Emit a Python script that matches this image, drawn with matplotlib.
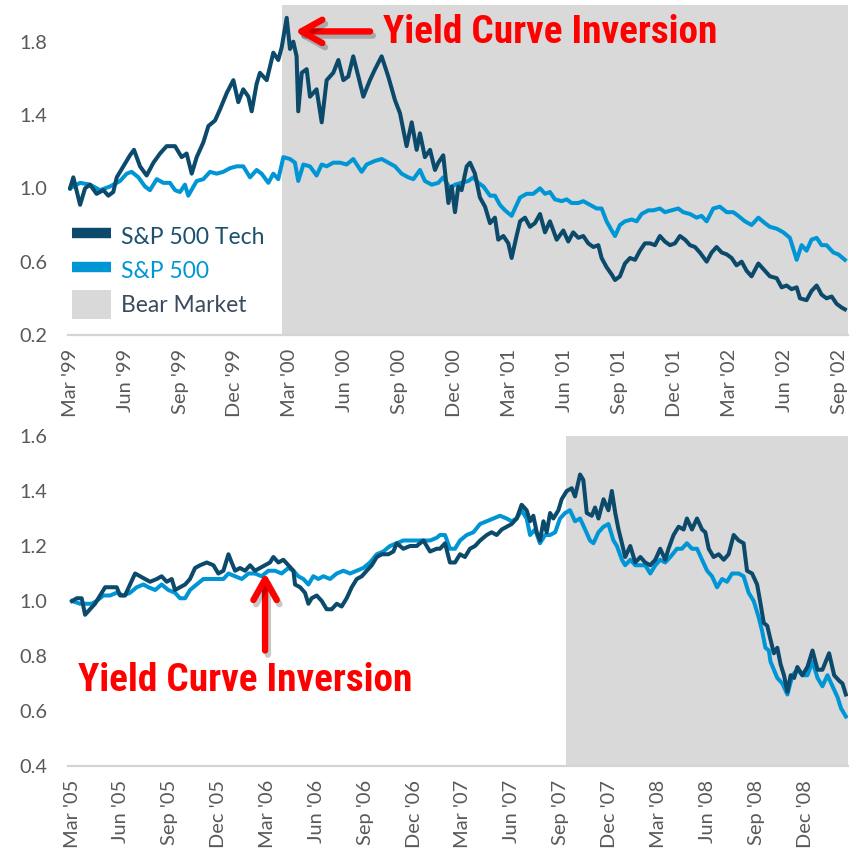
import matplotlib
matplotlib.use("Agg")
import matplotlib.pyplot as plt
from matplotlib import font_manager
from matplotlib.lines import Line2D
from matplotlib.patches import Patch
import matplotlib.patheffects as pe
import numpy as np

# ---------------- DATA (months since first tick, value indexed to 1.0) ----------------
top_tick_labels = ["Mar '99", "Jun '99", "Sep '99", "Dec '99", "Mar '00", "Jun '00", "Sep '00",
                   "Dec '00", "Mar '01", "Jun '01", "Sep '01", "Dec '01", "Mar '02", "Jun '02", "Sep '02"]
bot_tick_labels = ["Mar '05", "Jun '05", "Sep '05", "Dec '05", "Mar '06", "Jun '06", "Sep '06",
                   "Dec '06", "Mar '07", "Jun '07", "Sep '07", "Dec '07", "Mar '08", "Jun '08",
                   "Sep '08", "Dec '08"]

top_tech_month = [0.00, 0.18, 0.55, 0.82, 1.09, 1.45, 1.82, 2.09, 2.36, 2.55,
                  2.91, 3.27, 3.49, 3.82, 4.18, 4.55, 4.91, 5.27, 5.73, 6.09,
                  6.36, 6.64, 6.91, 7.27, 7.55, 7.91, 8.18, 8.55, 8.91, 9.18,
                  9.45, 9.73, 9.91, 10.18, 10.36, 10.73, 11.09, 11.36, 11.55, 11.82,
                  12.00, 12.18, 12.36, 12.45, 12.64, 12.91, 13.09, 13.45, 13.73, 14.00,
                  14.36, 14.64, 14.91, 15.18, 15.45, 15.73, 16.00, 16.36, 16.64, 17.00,
                  17.36, 17.73, 18.00, 18.36, 18.64, 18.91,
                  19.09, 19.36, 19.64, 19.91, 20.09, 20.36, 20.64, 20.82, 21.00, 21.18,
                  21.36, 21.64, 21.82, 22.09, 22.36, 22.64, 22.91, 23.18, 23.36, 23.64,
                  23.91, 24.09, 24.36, 24.55, 24.82, 25.09, 25.36, 25.64, 25.91, 26.18,
                  26.55, 26.91, 27.18, 27.45, 27.73, 28.00, 28.27, 28.55, 28.82, 29.00,
                  29.27, 29.55, 29.73, 30.00, 30.27, 30.55, 30.82, 31.09, 31.36, 31.64,
                  31.91, 32.18, 32.45, 32.73, 33.00, 33.27, 33.55, 33.82, 34.09, 34.36,
                  34.73, 35.00, 35.27, 35.55, 35.82, 36.09, 36.36, 36.64, 36.91, 37.18,
                  37.55, 37.82, 38.18, 38.55, 38.82, 39.09, 39.36, 39.64, 39.82, 40.18,
                  40.45, 40.73, 41.00, 41.27, 41.55, 41.82, 42.09, 42.27]
top_tech = [1.00, 1.06, 0.91, 1.00, 1.02, 0.97, 0.99, 0.96, 0.98, 1.06,
            1.12, 1.18, 1.21, 1.12, 1.07, 1.14, 1.19, 1.23, 1.23, 1.17,
            1.19, 1.08, 1.17, 1.25, 1.34, 1.37, 1.43, 1.52, 1.59, 1.47,
            1.54, 1.50, 1.42, 1.57, 1.63, 1.59, 1.74, 1.70, 1.77, 1.93,
            1.76, 1.80, 1.72, 1.42, 1.63, 1.65, 1.50, 1.54, 1.36, 1.59,
            1.63, 1.70, 1.59, 1.61, 1.72, 1.61, 1.50, 1.59, 1.65, 1.72,
            1.61, 1.48, 1.41, 1.23, 1.36, 1.21,
            1.30, 1.17, 1.21, 1.10, 1.14, 1.18, 0.92, 1.01, 0.87, 1.01,
            0.99, 1.12, 1.14, 1.08, 0.95, 0.90, 0.81, 0.84, 0.72, 0.74,
            0.70, 0.62, 0.74, 0.82, 0.84, 0.79, 0.81, 0.86, 0.76, 0.82,
            0.72, 0.77, 0.71, 0.76, 0.73, 0.74, 0.70, 0.68, 0.69, 0.62,
            0.57, 0.53, 0.50, 0.52, 0.59, 0.62, 0.61, 0.66, 0.70, 0.70,
            0.69, 0.74, 0.71, 0.69, 0.70, 0.74, 0.72, 0.69, 0.68, 0.65,
            0.60, 0.65, 0.68, 0.65, 0.64, 0.62, 0.58, 0.60, 0.55, 0.52,
            0.59, 0.56, 0.52, 0.51, 0.46, 0.47, 0.45, 0.46, 0.40, 0.39,
            0.44, 0.47, 0.42, 0.40, 0.41, 0.37, 0.35, 0.34]

top_spx_month = [0.00, 0.55, 1.09, 1.64, 2.18, 2.73, 3.09, 3.36, 3.73, 4.09,
                 4.36, 4.73, 5.09, 5.45, 5.73, 6.00, 6.27, 6.45, 6.91, 7.27,
                 7.64, 8.00, 8.36, 8.73, 9.09, 9.45, 9.82, 10.18, 10.45, 10.82,
                 11.09, 11.36, 11.64, 12.00, 12.27, 12.45, 12.73, 13.09, 13.45, 13.73,
                 14.00, 14.36, 14.73, 15.09, 15.45, 15.91, 16.18, 16.64, 17.00, 17.36,
                 17.73, 18.09, 18.45, 18.73,
                 19.09, 19.36, 19.73, 20.09, 20.36, 20.73, 21.00, 21.36, 21.73, 22.00,
                 22.27, 22.55, 22.91, 23.18, 23.45, 23.73, 24.09, 24.27, 24.55, 24.91,
                 25.27, 25.64, 25.91, 26.18, 26.45, 26.82, 27.09, 27.36, 27.73, 28.00,
                 28.36, 28.73, 29.00, 29.27, 29.55, 29.73, 30.00, 30.27, 30.64, 30.91,
                 31.18, 31.55, 31.82, 32.18, 32.45, 32.82, 33.18, 33.45, 33.82, 34.18,
                 34.45, 34.73, 35.09, 35.45, 35.82, 36.18, 36.45, 36.82, 37.18, 37.55,
                 37.91, 38.18, 38.55, 38.91, 39.27, 39.64, 39.91, 40.18, 40.45, 40.73,
                 41.00, 41.27, 41.64, 41.91, 42.27]
top_spx = [1.00, 1.03, 1.02, 0.99, 1.01, 1.04, 1.08, 1.09, 1.06, 1.01,
           0.99, 1.05, 1.03, 1.03, 0.99, 0.98, 1.02, 0.96, 1.04, 1.05,
           1.09, 1.08, 1.09, 1.11, 1.12, 1.12, 1.06, 1.10, 1.08, 1.03,
           1.08, 1.05, 1.17, 1.16, 1.14, 1.04, 1.13, 1.12, 1.07, 1.13,
           1.12, 1.14, 1.14, 1.13, 1.16, 1.09, 1.13, 1.15, 1.16, 1.14,
           1.12, 1.08, 1.06, 1.05,
           1.10, 1.04, 1.02, 1.03, 1.06, 1.00, 1.02, 1.03, 1.04, 1.06,
           1.03, 1.01, 0.96, 0.96, 0.91, 0.88, 0.85, 0.89, 0.95, 0.97,
           0.97, 1.00, 0.97, 0.98, 0.94, 0.93, 0.94, 0.92, 0.92, 0.93,
           0.91, 0.89, 0.89, 0.82, 0.77, 0.74, 0.80, 0.82, 0.83, 0.82,
           0.86, 0.88, 0.88, 0.89, 0.87, 0.88, 0.89, 0.87, 0.86, 0.84,
           0.85, 0.82, 0.89, 0.90, 0.87, 0.87, 0.85, 0.82, 0.80, 0.84,
           0.81, 0.79, 0.78, 0.76, 0.73, 0.61, 0.69, 0.66, 0.72, 0.73,
           0.69, 0.69, 0.65, 0.64, 0.61]

bot_tech_month = [0.00, 0.29, 0.59, 0.80, 1.10, 1.41, 1.72, 2.03, 2.44, 2.74,
                  2.95, 3.25, 3.56, 3.87, 4.17, 4.48, 4.79, 5.20, 5.50, 5.81,
                  6.12, 6.32, 6.63, 6.94, 7.24, 7.55, 7.86, 8.27, 8.68, 8.98,
                  9.29, 9.60, 9.80, 10.01, 10.31, 10.62, 10.93, 11.23, 11.54, 11.85,
                  12.15, 12.36, 12.67, 12.97, 13.28, 13.59, 13.69, 14.00, 14.30, 14.51,
                  14.71, 15.02, 15.33, 15.63, 15.94, 16.25, 16.55, 16.86, 17.17, 17.48,
                  17.79, 18.09, 18.40, 18.71, 19.02, 19.42, 19.73, 19.93, 20.34, 20.75,
                  21.16, 21.57, 21.98, 22.39,
                  22.59, 22.90, 23.20, 23.51, 23.82, 24.12, 24.43, 24.74, 25.05, 25.46,
                  25.76, 26.07, 26.38, 26.68, 26.99, 27.30, 27.60, 27.91, 28.12, 28.32,
                  28.53, 28.73, 28.94, 29.14, 29.35, 29.55, 29.86, 30.06, 30.37, 30.68,
                  30.88, 31.19, 31.39, 31.60, 31.91, 32.11, 32.32, 32.63, 32.93, 33.14,
                  33.35, 33.55, 33.76, 33.96, 34.27, 34.58, 34.89, 35.19, 35.50, 35.81,
                  36.11, 36.42, 36.62, 36.93, 37.24, 37.55, 37.75, 38.06, 38.37, 38.68,
                  38.88, 39.09, 39.39, 39.70, 40.01, 40.31, 40.62, 40.93, 41.23, 41.44,
                  41.75, 42.06, 42.27, 42.47, 42.68, 42.88, 43.09, 43.30, 43.50, 43.71,
                  43.92, 44.12, 44.33, 44.53, 44.84, 45.15, 45.46, 45.77, 46.07, 46.48,
                  46.79, 47.10, 47.30, 47.51]
bot_tech = [1.00, 1.01, 1.01, 0.95, 0.97, 0.99, 1.02, 1.05, 1.05, 1.05,
            1.02, 1.02, 1.06, 1.10, 1.09, 1.08, 1.07, 1.08, 1.09, 1.07,
            1.08, 1.04, 1.05, 1.06, 1.08, 1.12, 1.13, 1.14, 1.13, 1.10,
            1.11, 1.17, 1.14, 1.11, 1.12, 1.11, 1.13, 1.11, 1.12, 1.13,
            1.14, 1.16, 1.14, 1.15, 1.13, 1.11, 1.06, 1.05, 1.03, 0.99,
            1.01, 1.02, 1.00, 0.97, 0.97, 0.99, 0.98, 1.01, 1.05, 1.08,
            1.09, 1.11, 1.13, 1.16, 1.17, 1.17, 1.18, 1.21, 1.19, 1.20,
            1.20, 1.22, 1.18, 1.19,
            1.19, 1.21, 1.14, 1.14, 1.17, 1.16, 1.19, 1.20, 1.22, 1.24,
            1.25, 1.24, 1.26, 1.27, 1.28, 1.30, 1.35, 1.33, 1.29, 1.31,
            1.25, 1.22, 1.29, 1.25, 1.32, 1.30, 1.33, 1.37, 1.40, 1.41,
            1.38, 1.46, 1.44, 1.32, 1.31, 1.34, 1.30, 1.37, 1.33, 1.40,
            1.32, 1.26, 1.21, 1.16, 1.20, 1.14, 1.16, 1.14, 1.13, 1.15,
            1.19, 1.15, 1.19, 1.24, 1.27, 1.26, 1.30, 1.26, 1.30, 1.26,
            1.25, 1.19, 1.16, 1.17, 1.15, 1.17, 1.24, 1.22, 1.21, 1.11,
            1.10, 1.06, 0.99, 0.92, 0.91, 0.86, 0.81, 0.83, 0.77, 0.73,
            0.67, 0.73, 0.72, 0.76, 0.73, 0.76, 0.82, 0.75, 0.75, 0.81,
            0.73, 0.71, 0.70, 0.66]

bot_spx_month = [0.00, 0.49, 0.90, 1.21, 1.51, 1.92, 2.33, 2.74, 3.15, 3.56,
                 3.97, 4.38, 4.69, 5.10, 5.50, 5.91, 6.32, 6.63, 6.94, 7.24,
                 7.65, 8.06, 8.47, 8.88, 9.29, 9.60, 10.01, 10.42, 10.83, 11.23,
                 11.64, 12.05, 12.46, 12.87, 13.28, 13.59, 13.89, 14.20, 14.51, 14.81,
                 15.12, 15.43, 15.84, 16.25, 16.66, 17.07, 17.48, 17.88, 18.29, 18.71,
                 19.11, 19.52, 19.93, 20.34, 20.75, 21.16, 21.57, 21.98, 22.39,
                 22.59, 22.90, 23.20, 23.51, 23.82, 24.23, 24.64, 25.05, 25.46, 25.87,
                 26.27, 26.68, 26.99, 27.30, 27.60, 27.91, 28.12, 28.43, 28.73, 29.04,
                 29.35, 29.66, 29.96, 30.27, 30.57, 30.88, 31.19, 31.50, 31.80, 32.01,
                 32.32, 32.63, 32.93, 33.24, 33.45, 33.76, 33.96, 34.27, 34.58, 34.89,
                 35.19, 35.50, 35.81, 36.11, 36.42, 36.73, 37.14, 37.44, 37.75, 38.06,
                 38.37, 38.68, 38.99, 39.29, 39.60, 39.91, 40.21, 40.52, 40.93, 41.23,
                 41.54, 41.85, 42.16, 42.37, 42.57, 42.78, 42.88, 43.09, 43.30, 43.61,
                 43.92, 44.23, 44.53, 44.84, 45.15, 45.46, 45.77, 46.07, 46.38, 46.69,
                 47.00, 47.21, 47.51]
bot_spx = [1.00, 0.99, 0.99, 0.99, 1.00, 1.02, 1.02, 1.03, 1.02, 1.03,
           1.05, 1.06, 1.05, 1.04, 1.06, 1.04, 1.03, 1.01, 1.01, 1.04,
           1.06, 1.08, 1.08, 1.08, 1.08, 1.10, 1.09, 1.08, 1.10, 1.10,
           1.09, 1.11, 1.11, 1.10, 1.12, 1.11, 1.09, 1.08, 1.06, 1.09,
           1.08, 1.09, 1.08, 1.10, 1.11, 1.10, 1.11, 1.12, 1.14, 1.17,
           1.18, 1.20, 1.21, 1.22, 1.22, 1.22, 1.22, 1.22, 1.23,
           1.24, 1.24, 1.19, 1.19, 1.22, 1.24, 1.25, 1.28, 1.29, 1.30,
           1.31, 1.30, 1.29, 1.30, 1.33, 1.30, 1.24, 1.26, 1.21, 1.24,
           1.24, 1.25, 1.30, 1.32, 1.33, 1.29, 1.30, 1.26, 1.22, 1.21,
           1.25, 1.27, 1.28, 1.22, 1.20, 1.15, 1.13, 1.15, 1.13, 1.13,
           1.13, 1.10, 1.13, 1.15, 1.14, 1.16, 1.19, 1.19, 1.21, 1.19,
           1.19, 1.15, 1.11, 1.09, 1.05, 1.08, 1.07, 1.10, 1.10, 1.09,
           1.03, 1.00, 0.94, 0.89, 0.83, 0.82, 0.78, 0.75, 0.72, 0.70,
           0.66, 0.73, 0.75, 0.73, 0.73, 0.78, 0.72, 0.69, 0.73, 0.69,
           0.65, 0.61, 0.58]

top_bear_start = 11.57   # months after Mar '99
bot_bear_start = 30.33   # months after Mar '05
series_names = ["S&P 500 Tech", "S&P 500", "Bear Market"]
annot_text = "Yield Curve Inversion"

# ---------------- STYLE ----------------
DARK = "#0b4a6b"
LIGHT = "#0096d6"
SHADE = "#d9d9d9"
TICKC = "#595959"
RED = "#ff0000"

names = {f.name for f in font_manager.fontManager.ttflist}
def pick(cands, default="DejaVu Sans"):
    for c in cands:
        if c in names:
            return c
    return default

base_font = pick(["Lato", "Open Sans", "Noto Sans", "DejaVu Sans"])
red_font = pick(["Liberation Sans Narrow", "Roboto Condensed", "Open Sans Condensed", "DejaVu Sans"])
red_stretch = "condensed" if red_font == "DejaVu Sans" else "normal"
plt.rcParams["font.family"] = [base_font, "DejaVu Sans"]

W, H = 859, 851
fig = plt.figure(figsize=(W / 100, H / 100), dpi=100)
fig.patch.set_facecolor("white")
ax1 = fig.add_axes([68 / W, 1 - 335 / H, 780 / W, 330 / H])
ax2 = fig.add_axes([68 / W, 1 - 766 / H, 780 / W, 330 / H])


def style_axis(ax, xlim, ylim, yticks, tick_labels, bear_start):
    ax.set_xlim(*xlim)
    ax.set_ylim(*ylim)
    ax.axvspan(bear_start, xlim[1], color=SHADE, lw=0, zorder=0)
    for s in ["top", "right", "left"]:
        ax.spines[s].set_visible(False)
    ax.spines["bottom"].set_color("#d4d4d4")
    ax.spines["bottom"].set_linewidth(1.6)
    ax.set_yticks(yticks)
    ax.set_yticklabels([f"{v:.1f}" for v in yticks])
    ax.set_xticks(np.arange(len(tick_labels)) * 3)
    ax.set_xticklabels(tick_labels, rotation=90, ha="center", va="top")
    ax.tick_params(axis="y", length=0, pad=15, labelsize=14.4, labelcolor=TICKC)
    ax.tick_params(axis="x", length=0, pad=10, labelsize=14.4, labelcolor=TICKC)
    ax.set_facecolor("white")


style_axis(ax1, (-0.11, 42.44), (0.2, 2.0), [0.2, 0.6, 1.0, 1.4, 1.8], top_tick_labels, top_bear_start)
style_axis(ax2, (-0.25, 47.64), (0.4, 1.6), [0.4, 0.6, 0.8, 1.0, 1.2, 1.4, 1.6], bot_tick_labels, bot_bear_start)

lw = 2.9
ax1.plot(top_spx_month, top_spx, color=LIGHT, lw=lw, solid_joinstyle="round", zorder=3)
ax1.plot(top_tech_month, top_tech, color=DARK, lw=lw, solid_joinstyle="round", zorder=4)
ax2.plot(bot_spx_month, bot_spx, color=LIGHT, lw=lw, solid_joinstyle="round", zorder=3)
ax2.plot(bot_tech_month, bot_tech, color=DARK, lw=lw, solid_joinstyle="round", zorder=4)

# legend
handles = [Line2D([], [], color=DARK, lw=7.5, solid_capstyle="butt"),
           Line2D([], [], color=LIGHT, lw=7.5, solid_capstyle="butt"),
           Patch(facecolor=SHADE, edgecolor="none")]
leg = ax1.legend(handles, series_names, loc="upper left", bbox_to_anchor=(0.005, 0.341),
                 frameon=False, fontsize=16.5, handlelength=1.7, handleheight=1.57,
                 handletextpad=0.45, labelspacing=0.2, borderpad=0, borderaxespad=0)
for t, c in zip(leg.get_texts(), ["#1d4f6e", LIGHT, "#3b4b5b"]):
    t.set_color(c)

# annotations
shadow = [pe.SimpleLineShadow(offset=(2, -3), shadow_color="k", alpha=0.22), pe.Normal()]
arrow_props = dict(arrowstyle="->,head_length=0.75,head_width=0.42", color=RED, lw=4.6,
                   mutation_scale=20, shrinkA=0, shrinkB=0)

a1 = ax1.annotate("", xy=(12.27, 1.856), xytext=(16.37, 1.856), arrowprops=arrow_props, zorder=6)
a1.arrow_patch.set_path_effects(shadow)
a2 = ax2.annotate("", xy=(11.85, 1.103), xytext=(11.85, 0.82), arrowprops=arrow_props, zorder=6)
a2.arrow_patch.set_path_effects(shadow)

t1 = ax1.text(17.06, 1.795, annot_text, color=RED, fontweight="bold", fontsize=27,
              family=[red_font, "DejaVu Sans"], fontstretch=red_stretch,
              ha="left", va="baseline", zorder=7)
t2 = ax2.text(0.39, 0.673, annot_text, color=RED, fontweight="bold", fontsize=27,
              family=[red_font, "DejaVu Sans"], fontstretch=red_stretch,
              ha="left", va="baseline", zorder=7)

# fit annotation text width to the reference (~335 px)
fig.canvas.draw()
r = fig.canvas.get_renderer()
wpx = t1.get_window_extent(renderer=r).width
if wpx > 0:
    new_size = 27 * 335.0 / wpx
    new_size = min(new_size, 30)
    t1.set_fontsize(new_size)
    t2.set_fontsize(new_size)

fig.savefig("out.png", dpi=100, facecolor="white")
